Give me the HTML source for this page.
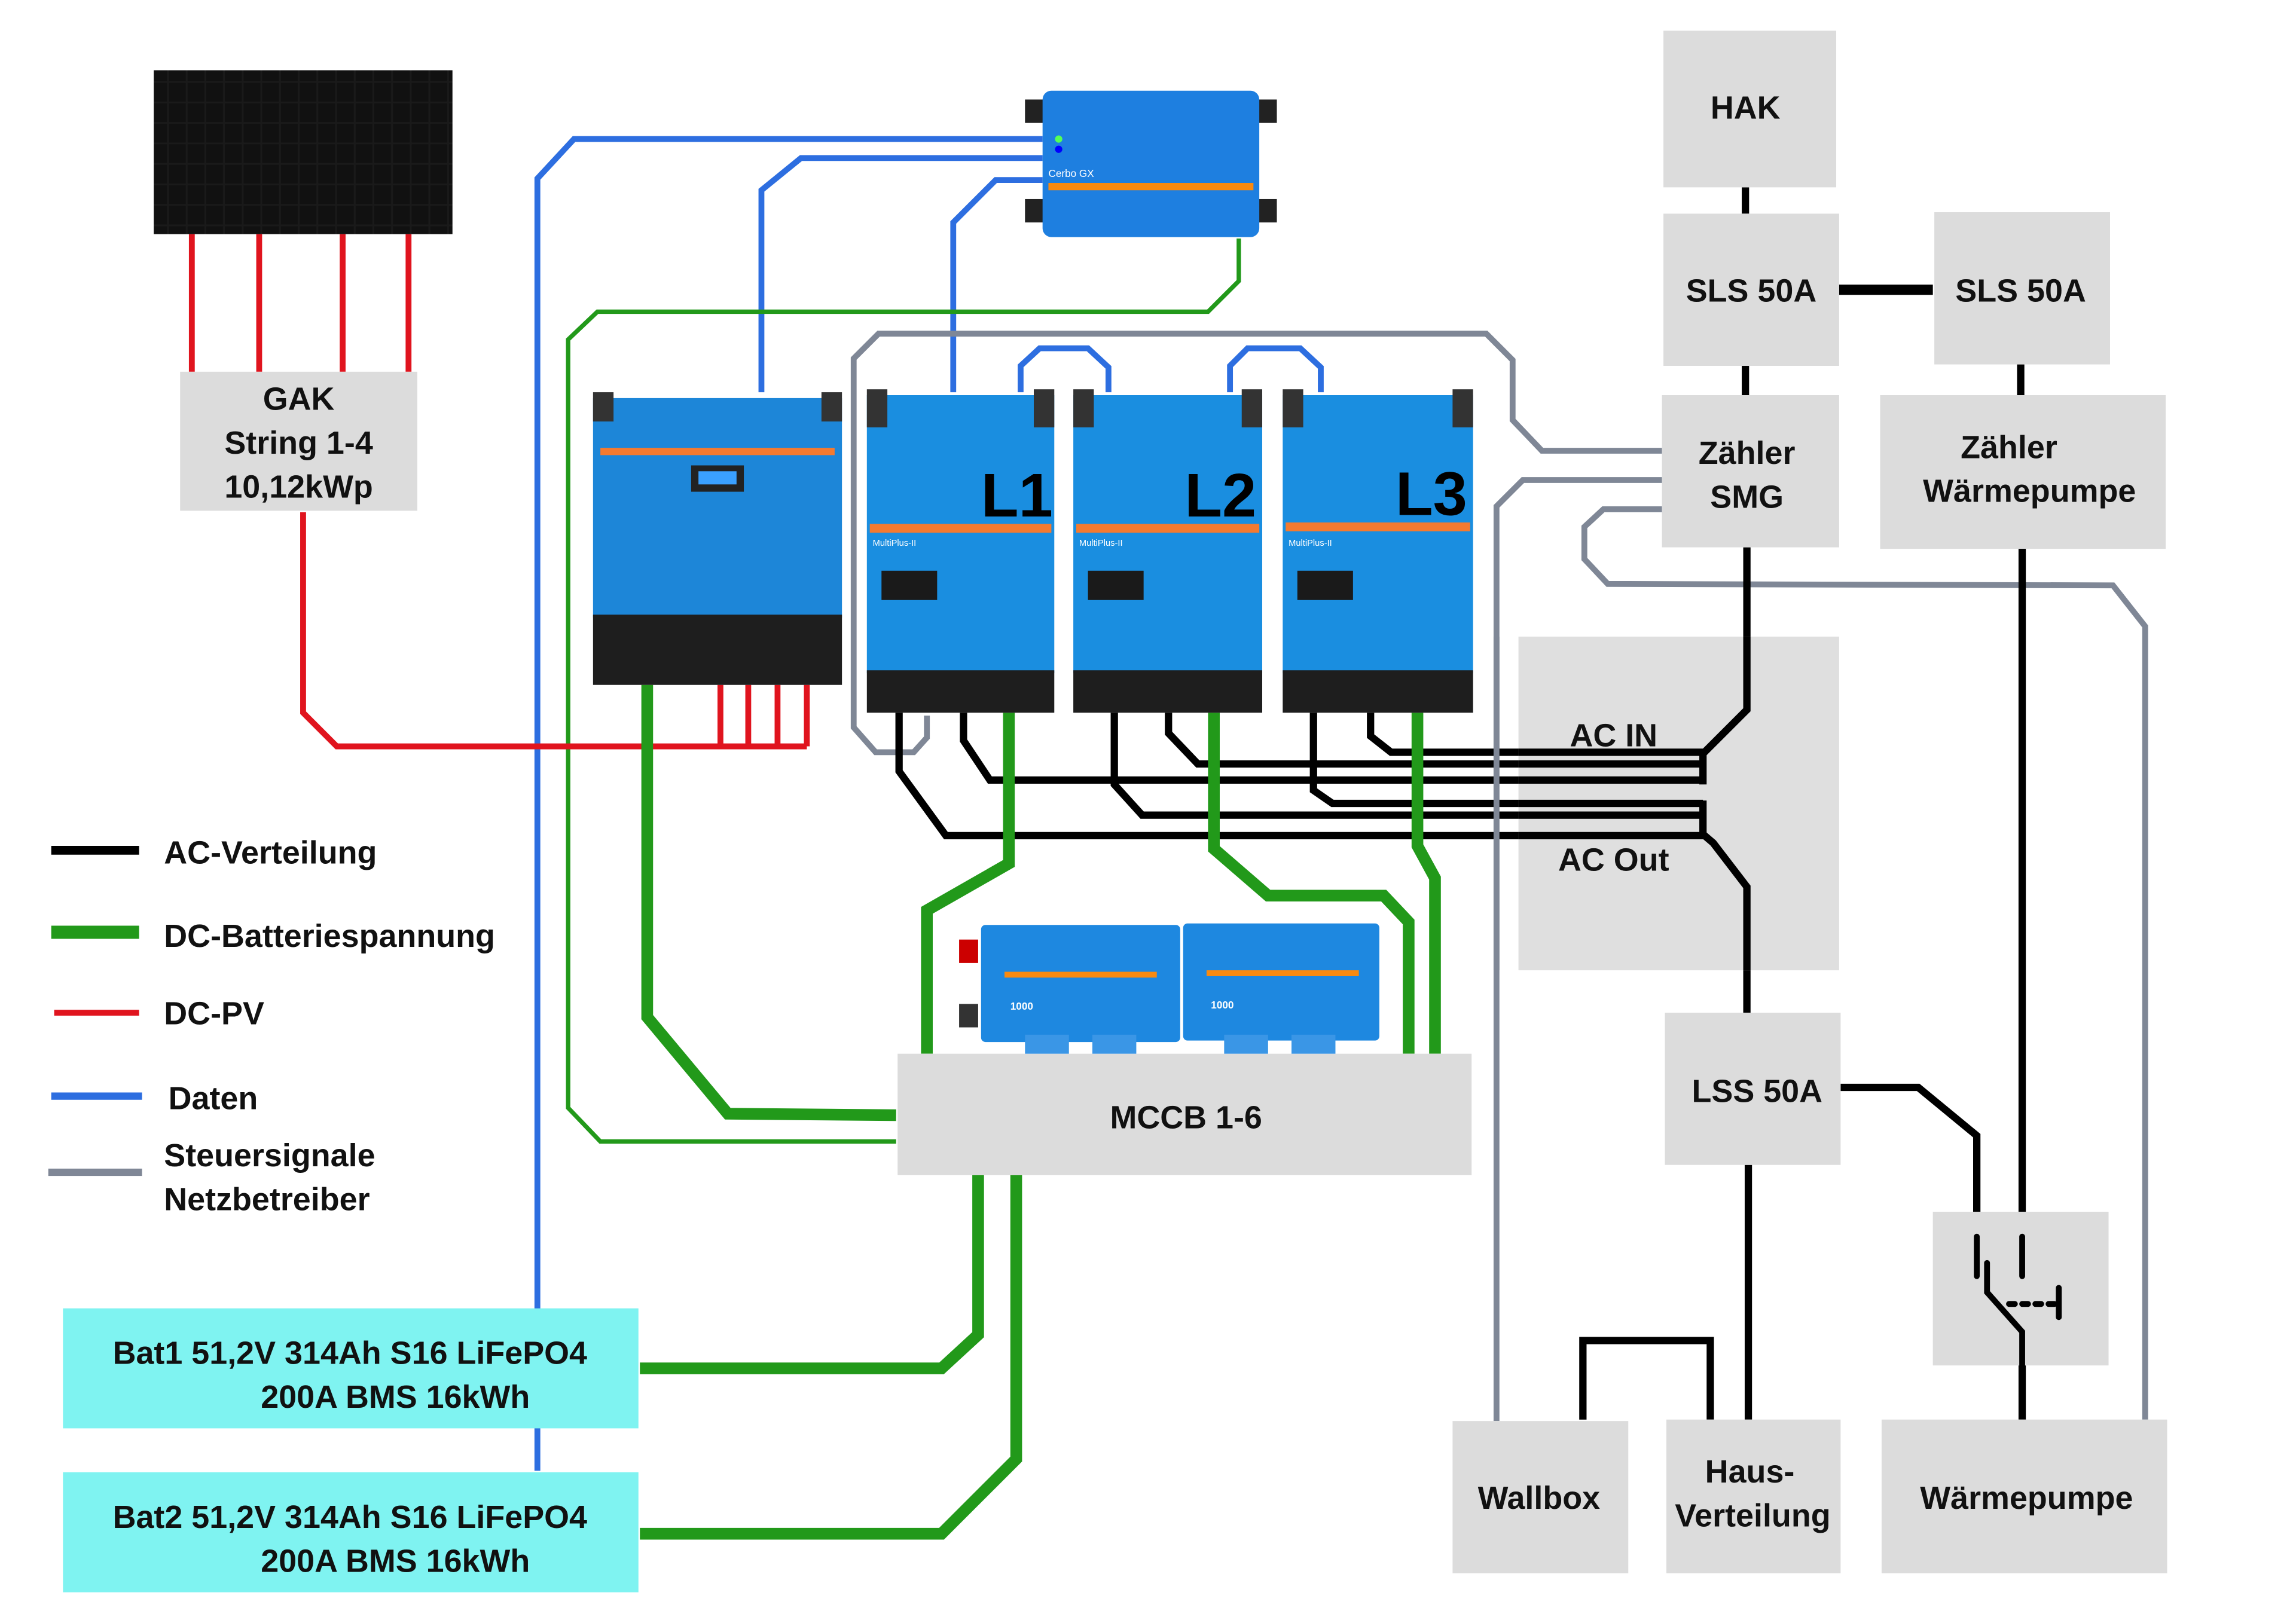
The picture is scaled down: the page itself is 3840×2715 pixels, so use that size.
<!DOCTYPE html>
<html><head><meta charset="utf-8"><style>html,body{margin:0;padding:0;background:#fff}svg{display:block}</style></head>
<body>
<svg width="3840" height="2715" viewBox="0 0 1568 1109" preserveAspectRatio="none" xmlns="http://www.w3.org/2000/svg" font-family="Liberation Sans, sans-serif" font-weight="bold">
<rect width="1568" height="1109" fill="#fff"/>
<defs>
<pattern id="pv" width="12.75" height="14" patternUnits="userSpaceOnUse"><rect width="12.75" height="14" fill="#1a1a1a"/><rect x="0.6" y="0.6" width="11.5" height="12.8" fill="#111"/></pattern>
</defs>
<g fill="none" stroke-linejoin="miter">
<g stroke="#2d6ee0" stroke-width="4">
<path d="M367,1005 L367,122 L392,95 L712,95"/>
<path d="M520,268 L520,130 L547,108 L712,108"/>
<path d="M651,268 L651,152 L680,123 L712,123"/>
<path d="M697,268 L697,250 L710,238 L743,238 L757,251 L757,268"/>
<path d="M840,268 L840,250 L852,238 L888,238 L902,251 L902,268"/>
</g>
<path d="M846,163 L846,192 L825,213 L408,213 L388,232 L388,757 L410,780 L612,780" stroke="#22991a" stroke-width="3"/>
<g stroke="#7f8796" stroke-width="4">
<path d="M1135,308 L1053,308 L1033,287 L1033,246 L1015,228 L600,228 L583,245 L583,497 L598,514 L624,514 L633,504 L633,489"/>
<path d="M1135,328 L1040,328 L1022,346 L1022,971"/>
<path d="M1135,348 L1095,348 L1082,360 L1082,382 L1098,399 L1443,400 L1465,428 L1465,970"/>
</g>
<g stroke="#e0141e" stroke-width="4">
<path d="M131,160 V254 M177,160 V254 M234,160 V254 M279,160 V254"/>
<path d="M207,350 L207,487 L230,510 L551,510"/>
<path d="M492,468 V510 M511,468 V510 M531,468 V510 M551,468 V510"/>
</g>
<g stroke="#000" stroke-width="5">
<path d="M614,487 L614,527 L646,571 L1163,571"/>
<path d="M658,487 L658,506 L676,533 L1163,533"/>
<path d="M761,487 L761,536 L780,557 L1163,557"/>
<path d="M798,487 L798,501 L818,522 L1163,522"/>
<path d="M897,487 L897,540 L910,549 L1163,549"/>
<path d="M936,487 L936,503 L950,514 L1163,514"/>
<path d="M1163,512 V536 M1163,547 V573"/>
<path d="M1193,374 L1193,485 L1163,515"/>
<path d="M1163,570 L1170,576 L1193,606 L1193,692"/>
<path d="M1192,128 V146 M1192,250 V270 M1380,249 V270"/>
<path d="M1381,375 V828 M1381,933 V970"/>
<path d="M1257,743 L1310,743 L1350,776 L1350,828"/>
<path d="M1194,796 V970"/>
<path d="M1081,970 L1081,916 L1168,916 L1168,970"/>
</g>
<path d="M1256,198 L1320,198" stroke="#000" stroke-width="7"/>
<g stroke="#22991a" stroke-width="8">
<path d="M689,487 L689,590 L633,622 L633,720"/>
<path d="M829,487 L829,580 L866,612 L945,612 L962,630 L962,720"/>
<path d="M968,487 L968,578 L980,600 L980,720"/>
<path d="M442,468 L442,695 L497,761 L612,762"/>
<path d="M668,803 L668,912 L643,935 L437,935"/>
<path d="M694,803 L694,997 L643,1048 L437,1048"/>
</g>
</g>
<rect x="105" y="48" width="204" height="112" fill="url(#pv)"/>
<g fill="#dcdcdc">
<rect x="123" y="254" width="162" height="95"/>
<rect x="1136" y="21" width="118" height="107"/>
<rect x="1136" y="146" width="120" height="104"/>
<rect x="1321" y="145" width="120" height="104"/>
<rect x="1135" y="270" width="121" height="104"/>
<rect x="1284" y="270" width="195" height="105"/>
<rect x="1037" y="435" width="219" height="228" fill-opacity="0.9"/>
<rect x="613" y="720" width="392" height="83"/>
<rect x="1137" y="692" width="120" height="104"/>
<rect x="1320" y="828" width="120" height="105"/>
<rect x="992" y="971" width="120" height="104"/>
<rect x="1138" y="970" width="119" height="105"/>
<rect x="1285" y="970" width="195" height="105"/>
</g>
<g stroke="#000" stroke-width="5" fill="none">
<path d="M1037,571 L1163,571 M1037,533 L1163,533 M1037,557 L1163,557 M1037,522 L1163,522 M1037,549 L1163,549 M1037,514 L1163,514 M1163,512 V536 M1163,547 V573"/>
<path d="M1193,435 L1193,485 L1163,515"/><path d="M1163,570 L1170,576 L1193,606 L1193,663"/>
</g>
<path d="M1022,435 V663" stroke="#7f8796" stroke-width="4"/>
<g stroke="#000" stroke-width="4" stroke-linecap="round" fill="none">
<path d="M1350,845 V872 M1381,845 V872"/>
<path d="M1357,863 L1357,883 L1381,910 L1381,933"/>
<path d="M1372,891 H1405" stroke-dasharray="4,5"/>
<path d="M1406,880 V900"/>
</g>
<rect x="43" y="894" width="393" height="82" fill="#7ff3f1"/>
<rect x="43" y="1006" width="393" height="82" fill="#7ff3f1"/>
<rect x="405" y="272" width="170" height="150" fill="#1d86d8"/>
<rect x="405" y="420" width="170" height="48" fill="#1e1e1e"/>
<rect x="405" y="268" width="14" height="20" fill="#333"/><rect x="561" y="268" width="14" height="20" fill="#333"/>
<rect x="410" y="306" width="160" height="5" fill="#f47a30"/>
<rect x="472" y="318" width="36" height="18" fill="#222"/><rect x="477" y="322" width="26" height="9" fill="#3aa0ff"/>
<g>
<rect x="592" y="270" width="128" height="190" fill="#1a8ee0"/><rect x="592" y="458" width="128" height="29" fill="#1e1e1e"/>
<rect x="594" y="358" width="124" height="6" fill="#f47a30"/><rect x="602" y="390" width="38" height="20" fill="#1a1a1a"/>
<rect x="592" y="266" width="14" height="26" fill="#333"/><rect x="706" y="266" width="14" height="26" fill="#333"/>
<rect x="733" y="270" width="129" height="190" fill="#1a8ee0"/><rect x="733" y="458" width="129" height="29" fill="#1e1e1e"/>
<rect x="735" y="358" width="125" height="6" fill="#f47a30"/><rect x="743" y="390" width="38" height="20" fill="#1a1a1a"/>
<rect x="733" y="266" width="14" height="26" fill="#333"/><rect x="848" y="266" width="14" height="26" fill="#333"/>
<rect x="876" y="270" width="130" height="190" fill="#1a8ee0"/><rect x="876" y="458" width="130" height="29" fill="#1e1e1e"/>
<rect x="878" y="357" width="126" height="6" fill="#f47a30"/><rect x="886" y="390" width="38" height="20" fill="#1a1a1a"/>
<rect x="876" y="266" width="14" height="26" fill="#333"/><rect x="992" y="266" width="14" height="26" fill="#333"/>
</g>
<g font-size="42" fill="#000"><text x="670" y="353">L1</text><text x="809" y="353">L2</text><text x="953" y="352">L3</text></g>
<g font-size="6" fill="#fff" font-weight="normal"><text x="596" y="373">MultiPlus-II</text><text x="737" y="373">MultiPlus-II</text><text x="880" y="373">MultiPlus-II</text></g>
<rect x="700" y="68" width="14" height="16" fill="#222"/><rect x="858" y="68" width="14" height="16" fill="#222"/>
<rect x="700" y="136" width="14" height="16" fill="#222"/><rect x="858" y="136" width="14" height="16" fill="#222"/>
<rect x="712" y="62" width="148" height="100" rx="6" fill="#1e7fe0"/>
<rect x="716" y="125" width="140" height="5" fill="#f98a10"/>
<circle cx="723" cy="95" r="2.5" fill="#5f5"/><circle cx="723" cy="102" r="2.5" fill="#00f"/>
<text x="716" y="121" font-size="7" fill="#fff" font-weight="normal">Cerbo GX</text>
<rect x="655" y="642" width="13" height="16" fill="#c00"/><rect x="655" y="686" width="13" height="16" fill="#333"/>
<rect x="670" y="632" width="136" height="80" rx="3" fill="#1e88e0"/>
<rect x="808" y="631" width="134" height="80" rx="3" fill="#1e88e0"/>
<rect x="700" y="707" width="30" height="13" fill="#3a96e6"/><rect x="746" y="707" width="30" height="13" fill="#3a96e6"/>
<rect x="836" y="707" width="30" height="13" fill="#3a96e6"/><rect x="882" y="707" width="30" height="13" fill="#3a96e6"/>
<rect x="686" y="664" width="104" height="4" fill="#f98a10"/><rect x="824" y="663" width="104" height="4" fill="#f98a10"/>
<text x="690" y="690" font-size="7" fill="#fff">1000</text><text x="827" y="689" font-size="7" fill="#fff">1000</text>
<g font-size="22" fill="#111" text-anchor="middle">
<text x="204" y="280">GAK</text><text x="204" y="310">String 1-4</text><text x="204" y="340">10,12kWp</text>
<text x="1192" y="81">HAK</text>
<text x="1196" y="206">SLS 50A</text><text x="1380" y="206">SLS 50A</text>
<text x="1193" y="317">Zähler</text><text x="1193" y="347">SMG</text>
<text x="1372" y="313">Zähler</text><text x="1386" y="343">Wärmepumpe</text>
<text x="1102" y="510">AC IN</text><text x="1102" y="595">AC Out</text>
<text x="810" y="771">MCCB 1-6</text>
<text x="1200" y="753">LSS 50A</text>
<text x="1051" y="1031">Wallbox</text>
<text x="1195" y="1013">Haus-</text><text x="1197" y="1043">Verteilung</text>
<text x="1384" y="1031">Wärmepumpe</text>
<text x="239" y="932">Bat1 51,2V 314Ah S16 LiFePO4</text><text x="270" y="962">200A BMS  16kWh</text>
<text x="239" y="1044">Bat2 51,2V 314Ah S16 LiFePO4</text><text x="270" y="1074">200A BMS  16kWh</text>
</g>
<g stroke-width="6">
<path d="M35,581 H95" stroke="#000"/>
<path d="M35,637 H95" stroke="#22991a" stroke-width="9"/>
<path d="M37,692 H95" stroke="#e0141e" stroke-width="4"/>
<path d="M35,749 H97" stroke="#2d6ee0" stroke-width="5"/>
<path d="M33,801 H97" stroke="#7f8796" stroke-width="5"/>
</g>
<g font-size="22" fill="#111">
<text x="112" y="590">AC-Verteilung</text>
<text x="112" y="647">DC-Batteriespannung</text>
<text x="112" y="700">DC-PV</text>
<text x="115" y="758">Daten</text>
<text x="112" y="797">Steuersignale</text>
<text x="112" y="827">Netzbetreiber</text>
</g>
</svg>
</body></html>
